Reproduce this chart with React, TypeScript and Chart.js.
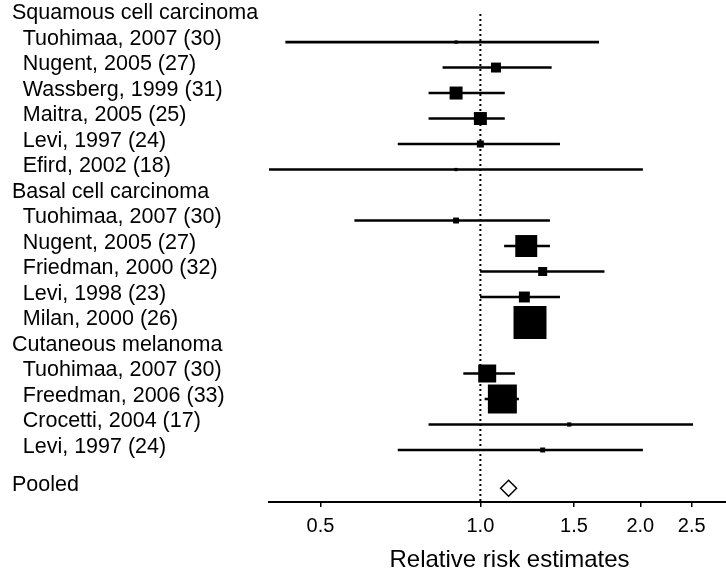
import { useEffect, useRef } from "react";
import { Chart, registerables } from "chart.js";

Chart.register(...registerables);

// Row labels (headers and studies) and their row positions (0 = top)
const rowLabels = [
  "Squamous cell carcinoma",
  "\u2002Tuohimaa, 2007 (30)",
  "\u2002Nugent, 2005 (27)",
  "\u2002Wassberg, 1999 (31)",
  "\u2002Maitra, 2005 (25)",
  "\u2002Levi, 1997 (24)",
  "\u2002Efird, 2002 (18)",
  "Basal cell carcinoma",
  "\u2002Tuohimaa, 2007 (30)",
  "\u2002Nugent, 2005 (27)",
  "\u2002Friedman, 2000 (32)",
  "\u2002Levi, 1998 (23)",
  "\u2002Milan, 2000 (26)",
  "Cutaneous melanoma",
  "\u2002Tuohimaa, 2007 (30)",
  "\u2002Freedman, 2006 (33)",
  "\u2002Crocetti, 2004 (17)",
  "\u2002Levi, 1997 (24)",
  "Pooled",
];
const rowPositions = [0, 1, 2, 3, 4, 5, 6, 7, 8, 9, 10, 11, 12, 13, 14, 15, 16, 17, 18.5];

// Study rows and estimates
const studyRows = [1, 2, 3, 4, 5, 6, 8, 9, 10, 11, 12, 14, 15, 16, 17];
const estimates = [0.9, 1.07, 0.9, 1.0, 1.0, 0.9, 0.9, 1.22, 1.31, 1.21, 1.24, 1.03, 1.1, 1.47, 1.31];
const lower = [0.43, 0.85, 0.8, 0.8, 0.7, 0.4, 0.58, 1.11, 1.0, 1.0, 1.17, 0.93, 1.02, 0.8, 0.7];
const upper = [1.67, 1.36, 1.11, 1.11, 1.41, 2.02, 1.35, 1.35, 1.71, 1.41, 1.31, 1.16, 1.18, 2.51, 2.02];
const weights = [0.3, 2.8, 4.8, 4.8, 1.4, 0.3, 1.0, 13.7, 2.3, 3.4, 30.9, 9.2, 23.9, 0.5, 0.7];

const pooledRow = 18.5;
const pooledEstimate = 1.13;

const xTickValues = [0.5, 1.0, 1.5, 2.0, 2.5];
const xTickLabels = ["0.5", "1.0", "1.5", "2.0", "2.5"];
const xTitle = "\u2003Relative risk estimates";

const X_MIN = 0.4;
const X_MAX = 2.9;
const Y_MIN = -0.1;
const Y_MAX = 19.04;

export default function App() {
  const ref = useRef<HTMLCanvasElement>(null);

  useEffect(() => {
    const canvas = ref.current;
    if (!canvas) return;
    const FONT = "'Liberation Sans', Arial, Helvetica, sans-serif";
    const side = (w: number) => 5.93 * Math.sqrt(w);

    const chart = new Chart(canvas, {
      type: "scatter",
      data: {
        datasets: [
          {
            type: "scatter",
            label: "Studies",
            data: studyRows.map((r, i) => ({ x: estimates[i], y: r })),
            pointStyle: "rect",
            pointRadius: weights.map((w) => side(w) / Math.SQRT2),
            pointHoverRadius: weights.map((w) => side(w) / Math.SQRT2),
            pointBackgroundColor: "#000",
            pointBorderWidth: 0,
            order: 0,
          } as any,
          {
            type: "scatter",
            label: "Pooled",
            data: [{ x: pooledEstimate, y: pooledRow }],
            pointStyle: "rectRot",
            pointRadius: 8,
            pointHoverRadius: 8,
            pointBackgroundColor: "#fff",
            pointBorderColor: "#000",
            pointBorderWidth: 1.5,
            order: 0,
          } as any,
          {
            type: "bar",
            label: "CI",
            indexAxis: "y",
            data: studyRows.map((r, i) => ({ x: [lower[i], upper[i]], y: r })),
            backgroundColor: "#000",
            borderWidth: 0,
            barThickness: 2,
            order: 1,
          } as any,
          {
            type: "line",
            label: "No effect",
            data: [
              { x: 1, y: Y_MIN },
              { x: 1, y: Y_MAX },
            ],
            borderColor: "#000",
            borderWidth: 2,
            borderDash: [2, 3],
            pointRadius: 0,
            showLine: true,
            order: 2,
          } as any,
        ],
      },
      options: {
        animation: false,
        responsive: false,
        layout: { autoPadding: false, padding: { left: 12, top: 14, right: 0, bottom: 0 } },
        plugins: { legend: { display: false }, tooltip: { enabled: false } },
        scales: {
          x: {
            type: "logarithmic",
            position: "bottom",
            min: X_MIN,
            max: X_MAX,
            bounds: "data",
            offset: false,
            afterBuildTicks: (s: any) => {
              s.ticks = xTickValues.map((v) => ({ value: v }));
            },
            afterFit: (s: any) => {
              s.height = 67;
              s.paddingLeft = 0;
              s.paddingRight = 0;
            },
            ticks: {
              callback: (_v: any, i: number) => xTickLabels[i],
              font: { family: FONT, size: 20 },
              color: "#000",
              padding: 7,
              autoSkip: false,
              maxRotation: 0,
            },
            grid: {
              display: true,
              offset: false,
              drawOnChartArea: false,
              drawTicks: true,
              tickLength: 5,
              color: "#000",
              lineWidth: 1.5,
            },
            border: { display: true, color: "#000", width: 2 },
            title: {
              display: true,
              text: xTitle,
              font: { family: FONT, size: 24, lineHeight: 1 },
              color: "#000",
              padding: { top: 0, bottom: -3 },
            },
          } as any,
          y: {
            type: "linear",
            position: "left",
            reverse: true,
            min: Y_MIN,
            max: Y_MAX,
            bounds: "data",
            offset: false,
            afterBuildTicks: (s: any) => {
              s.ticks = rowPositions.map((v) => ({ value: v }));
            },
            afterFit: (s: any) => {
              s.width = 257;
              s.paddingTop = 0;
              s.paddingBottom = 0;
            },
            ticks: {
              callback: (_v: any, i: number) => rowLabels[i],
              font: { family: FONT, size: 21.5 },
              color: "#000",
              crossAlign: "far",
              padding: 0,
              autoSkip: false,
              labelOffset: -3,
            },
            grid: { display: false, drawTicks: false, offset: false },
            border: { display: false },
          } as any,
        },
      },
    });

    return () => chart.destroy();
  }, []);

  return (
    <div style={{ position: "absolute", left: 0, top: 0, width: 726, height: 569, background: "#fff" }}>
      <canvas ref={ref} width={726} height={569} style={{ display: "block" }} />
    </div>
  );
}
